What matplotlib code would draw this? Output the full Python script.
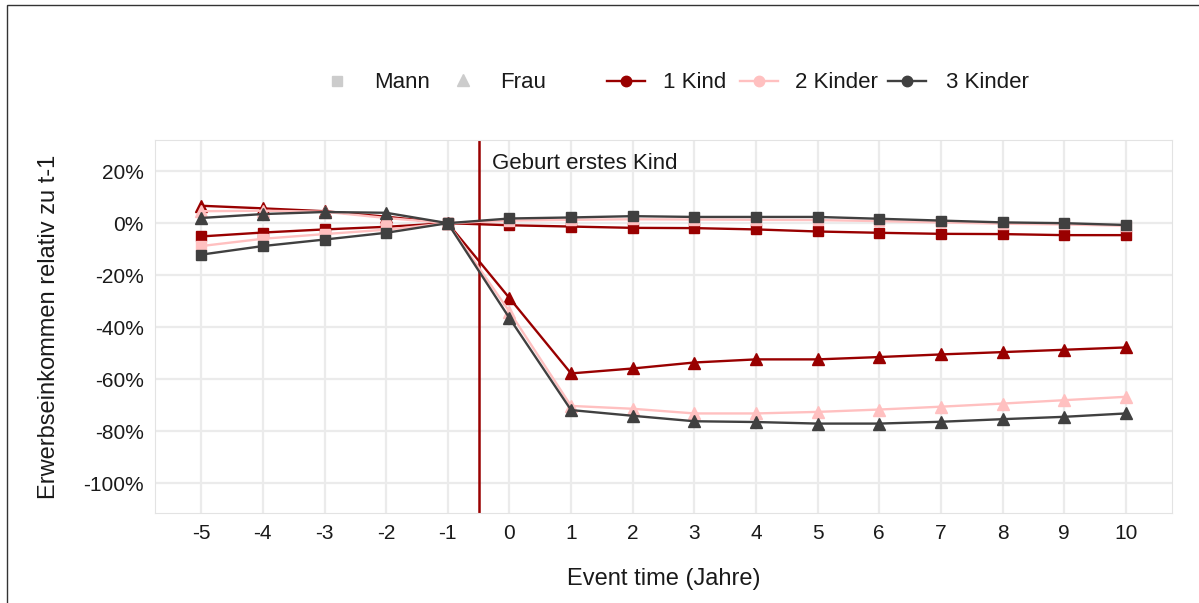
import matplotlib
matplotlib.use("Agg")
import matplotlib.pyplot as plt
from matplotlib.patches import Rectangle
from matplotlib.ticker import FuncFormatter

plt.rcParams['font.family'] = ['Liberation Sans', 'DejaVu Sans']
plt.rcParams['axes.unicode_minus'] = False

years = list(range(-5, 11))
groups = ["1 Kind", "2 Kinder", "3 Kinder"]
colors = {"1 Kind": "#990000", "2 Kinder": "#FFC0C0", "3 Kinder": "#404040"}

mann = {
    "1 Kind":   [-5.1, -3.6, -2.4, -1.4, 0, -0.8, -1.3, -1.8, -1.9, -2.4, -3.2, -3.7, -4.1, -4.2, -4.6, -4.6],
    "2 Kinder": [-8.8, -6.0, -4.2, -2.5, 0, 1.0, 1.3, 1.5, 1.4, 1.3, 1.2, 0.8, 0.3, -0.2, -0.5, -1.0],
    "3 Kinder": [-12.1, -8.8, -6.3, -3.7, 0, 1.8, 2.2, 2.7, 2.4, 2.4, 2.4, 1.7, 1.0, 0.3, 0.0, -0.7],
}
frau = {
    "1 Kind":   [6.7, 5.7, 4.6, 2.5, 0, -28.8, -57.8, -55.9, -53.6, -52.4, -52.4, -51.5, -50.5, -49.6, -48.7, -47.8],
    "2 Kinder": [4.6, 4.8, 4.4, 2.0, 0, -34.0, -70.3, -71.4, -73.2, -73.2, -72.6, -71.7, -70.6, -69.4, -68.1, -66.8],
    "3 Kinder": [2.0, 3.5, 4.3, 4.0, 0, -36.5, -71.9, -74.1, -76.2, -76.5, -77.1, -77.1, -76.4, -75.4, -74.5, -73.2],
}

W, H = 1199, 603
fig = plt.figure(figsize=(W / 100, H / 100), dpi=100)
ax = fig.add_axes([155 / W, 1 - 513 / H, (1172 - 155) / W, (513 - 140) / H])

ax.set_xlim(-5.75, 10.75)
ax.set_ylim(-111.5, 32)
ax.set_xticks(years)
ax.set_yticks([20, 0, -20, -40, -60, -80, -100])
ax.yaxis.set_major_formatter(FuncFormatter(lambda v, p: f"{int(round(v))}%"))
ax.grid(True, color="#EBEBEB", lw=1.6, zorder=0)
ax.set_axisbelow(True)
for s in ax.spines.values():
    s.set_color("#E3E3E3")
    s.set_linewidth(0.8)
ax.tick_params(length=0, labelsize=15, colors="#1a1a1a")
ax.tick_params(axis="x", pad=8)
ax.tick_params(axis="y", pad=8)

ax.axvline(-0.5, color="#990000", lw=1.8, zorder=1)
ax.text(-0.28, 23, "Geburt erstes Kind", fontsize=16, color="#1a1a1a", va="center", ha="left")

for g in groups:
    ax.plot(years, mann[g], color=colors[g], lw=1.7, marker="s", markersize=7.5, zorder=3)
    ax.plot(years, frau[g], color=colors[g], lw=1.7, marker="^", markersize=8.5, zorder=3)

ax.set_xlabel("Event time (Jahre)", fontsize=17, color="#1a1a1a", labelpad=18)
ax.set_ylabel("Erwerbseinkommen relativ zu t-1", fontsize=17, color="#1a1a1a", labelpad=17)

# manual legend in pixel coordinates
lax = fig.add_axes([0, 0, 1, 1], facecolor="none")
lax.set_xlim(0, W)
lax.set_ylim(H, 0)
lax.axis("off")
ly = 81
ty = 83
lax.plot([337], [ly], ls="none", marker="s", color="#CCCCCC", markersize=6.5)
lax.text(374, ty, "Mann", fontsize=16, va="center", ha="left", color="#1a1a1a")
lax.plot([463], [ly - 1], ls="none", marker="^", color="#CCCCCC", markersize=8)
lax.text(500, ty, "Frau", fontsize=16, va="center", ha="left", color="#1a1a1a")
keys = [(607, 663), (740, 795), (888, 946)]
for g, (kx, tx) in zip(groups, keys):
    lax.plot([kx, kx + 38], [ly, ly], color=colors[g], lw=1.7)
    lax.plot([kx + 19], [ly], ls="none", marker="o", color=colors[g], markersize=7.5)
    lax.text(tx, ty, g, fontsize=16, va="center", ha="left", color="#1a1a1a")

fig.patches.append(Rectangle((7 / W, -0.05), 1.2, 1 + 0.05 - 5 / H, transform=fig.transFigure,
                             fill=False, edgecolor="#333333", lw=1.0))

fig.savefig("out.png", dpi=100)
